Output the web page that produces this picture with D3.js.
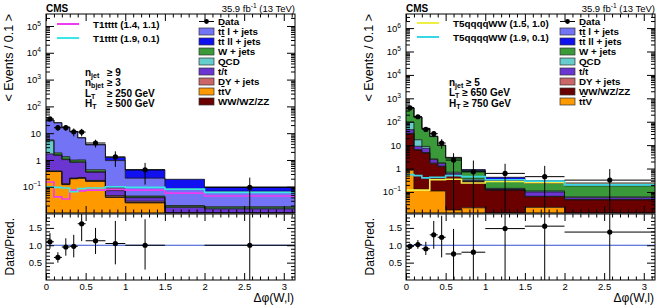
<!DOCTYPE html>
<html>
<head>
<meta charset="utf-8">
<script src="https://cdn.jsdelivr.net/npm/d3@7"></script>
<style>
  body { margin: 0; background: #fff; }
  svg { display: block; font-family: "Liberation Sans", Arial, Helvetica, sans-serif; }
</style>
</head>
<body>
<svg width="658" height="307"></svg>
<script>
// Bin edges in delta phi(W,l)
const EDGES_L = [0, 0.1, 0.2, 0.3, 0.4, 0.5, 0.75, 1.0, 1.5, 2.0, Math.PI];
const EDGES_R = [0, 0.1, 0.2, 0.3, 0.4, 0.5, 0.7, 1.0, 1.5, 2.0, Math.PI];

// Left panel backgrounds (events / 0.1), stacked bottom -> top
const L_TTV  = [0.37, 0.37, 0.12, 0.2, 0.21, 0.16, 0.04, 0.025, 0, 0];
const L_VV   = [0.003, 0.003, 0.002, 0.002, 0.002, 0.002, 0.002, 0.001, 0, 0];
const L_DY   = [0.02, 0.02, 0.01, 0.01, 0.01, 0.01, 0.005, 0.003, 0, 0];
const L_T    = [1.3, 1.1, 0.9, 0.6, 0.6, 0.18, 0.025, 0.01, 0.017, 0.015];
const L_QCD  = [3.5, 0.05, 0.05, 0.03, 0.03, 0.01, 0.003, 0.002, 0.001, 0.001];
const L_W    = [0.4, 0.3, 0.25, 0.15, 0.15, 0.07, 0.015, 0.004, 0.002, 0.002];
const L_TTL  = [25.3, 22.6, 15.4, 10.5, 5.7, 3.22, 0.86, 0.165, 0.065, 0.05];
const L_TTLL = [0.1, 0.1, 0.1, 0.1, 0.1, 0.15, 0.3, 0.22, 0.105, 0.03];

// Left panel data
const L_DATA    = [34, 16, 16, 11.3, 11, 4.3, 1.3, 0.43, null, 0.095];
const L_DATA_LO = [28, 12, 12, 7.6, 7.6, 2.9, 0.55, 0.12, null, 0.001];
const L_DATA_HI = [40, 20, 20, 15, 14.5, 5.7, 2.1, 0.78, null, 0.22];
const L_RATIO    = [1.1, 0.65, 0.95, 0.97, 1.62, 1.13, 1.05, 1.0, null, 1.0];
const L_RATIO_LO = [0.9, 0.5, 0.7, 0.65, 1.12, 0.75, 0.45, 0.3, null, 0];
const L_RATIO_HI = [1.35, 0.8, 1.2, 1.3, 2.0, 1.5, 1.7, 1.75, null, 2.0];

// Left panel signals
const L_SIG_A = [0.15, 0.042, 0.035, 0.075, 0.07, 0.075, 0.08, 0.075, 0.058, 0.045]; // T1tttt (1.4, 1.1)
const L_SIG_B = [0.1, 0.095, 0.09, 0.065, 0.085, 0.09, 0.1, 0.095, 0.082, 0.062];    // T1tttt (1.9, 0.1)

// Right panel backgrounds
const R_TTV  = [0.85, 0.13, 0.12, 0.11, 0.11, 0.017, 0.021, 0, 0.022, 0];
const R_VV   = [30, 6, 4.5, 1.5, 1.1, 0.5, 0.25, 0.12, 0.041, 0.046];
const R_DY   = [1, 0.3, 0.2, 0.1, 0.05, 0.01, 0.005, 0.002, 0.002, 0.001];
const R_T    = [14, 2.5, 2.5, 0.7, 0.4, 0.1, 0.03, 0.01, 0.035, 0.01];
const R_QCD  = [50, 8, 1.5, 0.2, 0.1, 0.07, 0.05, 0.01, 0.01, 0.005];
const R_W    = [290, 140, 42, 20.6, 7.8, 2.1, 0.42, 0.16, 0.12, 0.12];
const R_TTL  = [8, 1.5, 0.6, 0.4, 0.2, 0.1, 0.03, 0.02, 0.02, 0.03];
const R_TTLL = [6, 1.5, 0.6, 0.4, 0.24, 0.1, 0.1, 0.1, 0.05, 0.03];

// Right panel data
const R_DATA    = [390, 163, 47, 31, 12.3, 2.3, 0.72, 0.62, 0.45, 0.32];
const R_DATA_LO = [370, 150, 38, 22, 7, 0.001, 0.001, 0.001, 0.001, 0.001];
const R_DATA_HI = [410, 176, 56, 40, 18, 4.5, 2.2, 1.6, 1.3, 0.95];
const R_RATIO    = [0.97, 1.02, 0.9, 1.3, 1.23, 0.75, 0.8, 1.48, 1.55, 1.38];
const R_RATIO_LO = [0.9, 0.9, 0.72, 0.9, 0.65, 0, 0, 0, 0, 0];
const R_RATIO_HI = [1.05, 1.15, 1.1, 1.7, 1.85, 1.47, 2.0, 2.0, 2.0, 2.0];

// Right panel signals
const R_SIG_A = [0.12, 0.12, 0.12, 0.33, 0.33, 0.35, 0.24, 0.28, 0.25, 0.21]; // T5qqqqWW (1.5, 1.0)
const R_SIG_B = [0.55, 0.5, 0.4, 0.42, 0.42, 0.5, 0.45, 0.33, 0.29, 0.2];    // T5qqqqWW (1.9, 0.1)

// Stack order and styles
const KEYS = ["ttv", "vv", "dy", "t", "qcd", "w", "ttl", "ttll"];
const COLORS = {
  ttl: "#7373f5", ttll: "#1010f0", w: "#3a9a3a", qcd: "#66cccc",
  t: "#6a35d0", dy: "#cc6666", ttv: "#ff9900", vv: "#6b0000"
};
const LABELS = {
  ttl: [["t"], ["t", "over"], [" l + jets"]],
  ttll: [["t"], ["t", "over"], [" ll + jets"]],
  w: [["W + jets"]],
  qcd: [["QCD"]],
  t: [["t/"], ["t", "over"]],
  dy: [["DY + jets"]],
  ttv: [["t"], ["t", "over"], ["V"]],
  vv: [["WW/WZ/ZZ"]]
};

const svg = d3.select("svg");
const PLOT_TOP = 14, PLOT_BOT = 213, RAT_TOP = 214, RAT_BOT = 280;

// text with subscripts / superscripts / overlines
function rich(t, parts) {
  let shift = 0;
  parts.forEach(([s, kind]) => {
    const ts = t.append("tspan").text(s);
    const target = kind === "sub" ? 2 : kind === "sup" ? -4 : 0;
    if (target !== shift) ts.attr("dy", target - shift);
    shift = target;
    if (kind === "sub" || kind === "sup") ts.attr("font-size", "0.7em");
    if (kind === "over") ts.style("text-decoration", "overline");
  });
  return t;
}

function drawPanel(p) {
  const g = svg.append("g");
  const x = d3.scaleLinear().domain([0, Math.PI]).range(p.xr);
  const y = d3.scaleLog().domain(p.ydom).range([PLOT_BOT, PLOT_TOP]).clamp(true);
  const yr = d3.scaleLinear().domain([0, 1.9]).range([RAT_BOT, RAT_TOP]);
  const [x0, x1] = p.xr;
  const floor = p.ydom[0] * 0.5;
  const mids = p.edges.slice(0, -1).map((e, i) => (e + p.edges[i + 1]) / 2);

  g.append("clipPath").attr("id", "clip" + p.id)
    .append("rect").attr("x", x0).attr("y", PLOT_TOP).attr("width", x1 - x0).attr("height", PLOT_BOT - PLOT_TOP);
  const plot = g.append("g").attr("clip-path", `url(#clip${p.id})`);

  // stacked histogram
  const rows = mids.map((m, i) => {
    const r = {};
    KEYS.forEach(k => r[k] = p.bkg[k][i]);
    return r;
  });
  const series = d3.stack().keys(KEYS)(rows);
  const steps = s => s.flatMap((d, i) => [
    { x: p.edges[i], y0: d[0], y1: d[1] },
    { x: p.edges[i + 1], y0: d[0], y1: d[1] }
  ]);
  const area = d3.area()
    .x(d => x(d.x))
    .y0(d => y(Math.max(d.y0, floor)))
    .y1(d => y(Math.max(d.y1, floor)));
  const topLine = d3.line().x(d => x(d.x)).y(d => y(Math.max(d.y1, floor)));

  series.forEach(s => {
    plot.append("path").attr("d", area(steps(s))).attr("fill", COLORS[s.key]);
  });
  series.forEach(s => {
    plot.append("path").attr("d", topLine(steps(s)))
      .attr("fill", "none").attr("stroke", "#111").attr("stroke-width", 0.8);
  });

  // signal lines
  const sigLine = d3.line().x(d => x(d.x)).y(d => y(d.v));
  p.signals.forEach(sg => {
    const pts = sg.values.flatMap((v, i) => [{ x: p.edges[i], v }, { x: p.edges[i + 1], v }]);
    plot.append("path").attr("d", sigLine(pts))
      .attr("fill", "none").attr("stroke", sg.color).attr("stroke-width", 1.6);
  });

  // data
  const dataG = plot.append("g");
  p.data.forEach((v, i) => {
    if (v == null) return;
    dataG.append("line").attr("x1", x(p.edges[i])).attr("x2", x(p.edges[i + 1]))
      .attr("y1", y(v)).attr("y2", y(v)).attr("stroke", "#000");
    dataG.append("line").attr("x1", x(mids[i])).attr("x2", x(mids[i]))
      .attr("y1", y(p.dataLo[i])).attr("y2", y(p.dataHi[i])).attr("stroke", "#000");
    dataG.append("circle").attr("cx", x(mids[i])).attr("cy", y(v)).attr("r", 2.6).attr("fill", "#000");
  });

  // frames
  g.append("rect").attr("x", x0).attr("y", PLOT_TOP).attr("width", x1 - x0).attr("height", PLOT_BOT - PLOT_TOP)
    .attr("fill", "none").attr("stroke", "#000");
  g.append("rect").attr("x", x0).attr("y", RAT_TOP).attr("width", x1 - x0).attr("height", RAT_BOT - RAT_TOP)
    .attr("fill", "none").attr("stroke", "#000");

  // ratio panel
  g.append("line").attr("x1", x0).attr("x2", x1).attr("y1", yr(1)).attr("y2", yr(1))
    .attr("stroke", "#2f52d0").attr("stroke-width", 1);
  p.ratio.forEach((v, i) => {
    if (v == null) return;
    g.append("line").attr("x1", x(p.edges[i])).attr("x2", x(p.edges[i + 1]))
      .attr("y1", yr(v)).attr("y2", yr(v)).attr("stroke", "#000");
    g.append("line").attr("x1", x(mids[i])).attr("x2", x(mids[i]))
      .attr("y1", yr(Math.max(p.ratioLo[i], 0))).attr("y2", yr(Math.min(p.ratioHi[i], 1.9))).attr("stroke", "#000");
    g.append("circle").attr("cx", x(mids[i])).attr("cy", yr(v)).attr("r", 2.6).attr("fill", "#000");
  });

  // axes
  const lo = Math.ceil(Math.log10(p.ydom[0])), hi = Math.floor(Math.log10(p.ydom[1]));
  const majors = d3.range(lo, hi + 1).map(e => Math.pow(10, e));
  const minors = [];
  for (let e = lo - 1; e <= hi; e++) for (let m = 2; m <= 9; m++) {
    const v = m * Math.pow(10, e);
    if (v > p.ydom[0] && v < p.ydom[1]) minors.push(v);
  }
  const xMaj = [0, 0.5, 1, 1.5, 2, 2.5, 3];
  const xMin = d3.range(0, 3.15, 0.1).map(v => +v.toFixed(2)).filter(v => !xMaj.includes(v));
  const rMaj = [0.5, 1.0, 1.5];
  const rMin = d3.range(0.1, 1.9, 0.1).map(v => +v.toFixed(2)).filter(v => !rMaj.includes(v));

  const clean = sel => {
    sel.select(".domain").remove();
    sel.attr("font-family", null).attr("font-size", null);
    sel.selectAll("line").attr("stroke", "#000");
    sel.selectAll("text").attr("font-size", 9.5).attr("fill", "#000");
  };
  const addAxis = (axis, tx, ty) => g.append("g").attr("transform", `translate(${tx},${ty})`).call(axis).call(clean);

  // upper panel y
  const yl = addAxis(d3.axisLeft(y).tickValues(majors).tickSize(-8).tickPadding(5), x0, 0);
  yl.selectAll(".tick text").each(function (d) {
    const t = d3.select(this).text(null);
    const e = Math.round(Math.log10(d));
    if (e === 0) t.text("1");
    else if (e === 1) t.text("10");
    else rich(t, [["10"], [e < 0 ? "\u22121" : String(e), "sup"]]);
  });
  addAxis(d3.axisLeft(y).tickValues(minors).tickSize(-4).tickFormat(""), x0, 0);
  addAxis(d3.axisRight(y).tickValues(majors).tickSize(-8).tickFormat(""), x1, 0);
  addAxis(d3.axisRight(y).tickValues(minors).tickSize(-4).tickFormat(""), x1, 0);
  // upper panel x
  addAxis(d3.axisBottom(x).tickValues(xMaj).tickSize(-7).tickFormat(""), 0, PLOT_BOT);
  addAxis(d3.axisBottom(x).tickValues(xMin).tickSize(-3.5).tickFormat(""), 0, PLOT_BOT);
  addAxis(d3.axisTop(x).tickValues(xMaj).tickSize(-7).tickFormat(""), 0, PLOT_TOP);
  addAxis(d3.axisTop(x).tickValues(xMin).tickSize(-3.5).tickFormat(""), 0, PLOT_TOP);
  // ratio panel
  addAxis(d3.axisLeft(yr).tickValues(rMaj).tickSize(-8).tickPadding(4).tickFormat(d3.format(".1f")), x0, 0);
  addAxis(d3.axisLeft(yr).tickValues(rMin).tickSize(-4).tickFormat(""), x0, 0);
  addAxis(d3.axisRight(yr).tickValues(rMaj).tickSize(-8).tickFormat(""), x1, 0);
  addAxis(d3.axisRight(yr).tickValues(rMin).tickSize(-4).tickFormat(""), x1, 0);
  addAxis(d3.axisBottom(x).tickValues(xMaj).tickSize(-7).tickPadding(3).tickFormat(d3.format("~g")), 0, RAT_BOT);
  addAxis(d3.axisBottom(x).tickValues(xMin).tickSize(-3.5).tickFormat(""), 0, RAT_BOT);
  addAxis(d3.axisTop(x).tickValues(xMaj).tickSize(-7).tickFormat(""), 0, RAT_TOP);
  addAxis(d3.axisTop(x).tickValues(xMin).tickSize(-3.5).tickFormat(""), 0, RAT_TOP);

  // titles
  g.append("text").attr("transform", `translate(${x0 - 33},${PLOT_TOP}) rotate(-90)`)
    .attr("text-anchor", "end").attr("font-size", 12.5).text("< Events / 0.1 >");
  g.append("text").attr("transform", `translate(${x0 - 32},${RAT_TOP + 4}) rotate(-90)`)
    .attr("text-anchor", "end").attr("font-size", 12).text("Data/Pred.");
  g.append("text").attr("x", x1 - 1).attr("y", 302).attr("text-anchor", "end").attr("font-size", 12)
    .text("\u0394\u03c6(W,l)");
  g.append("text").attr("x", x0).attr("y", 12).attr("font-size", 10).attr("font-weight", "bold").text("CMS");
  rich(g.append("text").attr("x", x1).attr("y", 12).attr("text-anchor", "end").attr("font-size", 9.5),
    [["35.9 fb"], ["-1", "sup"], [" (13 TeV)"]]);

  // legend: signals
  p.signals.forEach((sg, i) => {
    const ly = p.sigLegY + i * 14;
    g.append("line").attr("x1", p.sigLegX).attr("x2", p.sigLegX + 22).attr("y1", ly).attr("y2", ly)
      .attr("stroke", sg.color).attr("stroke-width", 2);
    g.append("text").attr("x", p.sigLegX + 36).attr("y", ly + 3.5).attr("font-size", 9.8)
      .attr("font-weight", "bold").text(sg.name);
  });
  // legend: data + backgrounds
  const lx = p.legX;
  g.append("line").attr("x1", lx).attr("x2", lx + 15).attr("y1", 21.5).attr("y2", 21.5).attr("stroke", "#000");
  g.append("circle").attr("cx", lx + 7.5).attr("cy", 21.5).attr("r", 2.4).attr("fill", "#000");
  g.append("text").attr("x", lx + 19).attr("y", 25).attr("font-size", 9.8).attr("font-weight", "bold").text("Data");
  p.legOrder.forEach((k, i) => {
    const ly = 31.5 + i * 10;
    g.append("rect").attr("x", lx).attr("y", ly - 3.5).attr("width", 15).attr("height", 7)
      .attr("fill", COLORS[k]).attr("stroke", "#333").attr("stroke-width", 0.7);
    rich(g.append("text").attr("x", lx + 19).attr("y", ly + 3.5).attr("font-size", 9.8).attr("font-weight", "bold"),
      LABELS[k]);
  });
  // selection text
  p.cuts.forEach((c, i) => {
    const cy = p.cutY + i * p.cutStep;
    rich(g.append("text").attr("x", p.cutX).attr("y", cy).attr("font-size", 10).attr("font-weight", "bold"), c[0]);
    if (c[1]) g.append("text").attr("x", p.cutX2).attr("y", cy).attr("font-size", 10)
      .attr("font-weight", "bold").text(c[1]);
  });
}

drawPanel({
  id: "L", xr: [46, 295], ydom: [0.0105, 2.8e5], edges: EDGES_L,
  bkg: { ttv: L_TTV, vv: L_VV, dy: L_DY, t: L_T, qcd: L_QCD, w: L_W, ttl: L_TTL, ttll: L_TTLL },
  data: L_DATA, dataLo: L_DATA_LO, dataHi: L_DATA_HI,
  ratio: L_RATIO, ratioLo: L_RATIO_LO, ratioHi: L_RATIO_HI,
  signals: [
    { name: "T1tttt (1.4, 1.1)", values: L_SIG_A, color: "#f03cf0" },
    { name: "T1tttt (1.9, 0.1)", values: L_SIG_B, color: "#3ae6e6" }
  ],
  sigLegX: 57, sigLegY: 24, legX: 199,
  legOrder: ["ttl", "ttll", "w", "qcd", "t", "dy", "ttv", "vv"],
  cutX: 85, cutX2: 107, cutY: 76, cutStep: 10.3,
  cuts: [
    [[["n"], ["jet", "sub"]], "\u2265 9"],
    [[["n"], ["bjet", "sub"]], "\u2265 3"],
    [[["L"], ["T", "sub"]], "\u2265 250 GeV"],
    [[["H"], ["T", "sub"]], "\u2265 500 GeV"]
  ]
});

drawPanel({
  id: "R", xr: [406, 655], ydom: [0.0126, 4e6], edges: EDGES_R,
  bkg: { ttv: R_TTV, vv: R_VV, dy: R_DY, t: R_T, qcd: R_QCD, w: R_W, ttl: R_TTL, ttll: R_TTLL },
  data: R_DATA, dataLo: R_DATA_LO, dataHi: R_DATA_HI,
  ratio: R_RATIO, ratioLo: R_RATIO_LO, ratioHi: R_RATIO_HI,
  signals: [
    { name: "T5qqqqWW (1.5, 1.0)", values: R_SIG_A, color: "#eeee44" },
    { name: "T5qqqqWW (1.9, 0.1)", values: R_SIG_B, color: "#3ad6e6" }
  ],
  sigLegX: 417, sigLegY: 23, legX: 560,
  legOrder: ["ttl", "ttll", "w", "qcd", "t", "dy", "vv", "ttv"],
  cutX: 449, cutX2: null, cutY: 85.5, cutStep: 10.8,
  cuts: [
    [[["n"], ["jet", "sub"], [" \u2265 5"]]],
    [[["L"], ["T", "sub"], [" \u2265 650 GeV"]]],
    [[["H"], ["T", "sub"], [" \u2265 750 GeV"]]]
  ]
});
</script>
</body>
</html>
